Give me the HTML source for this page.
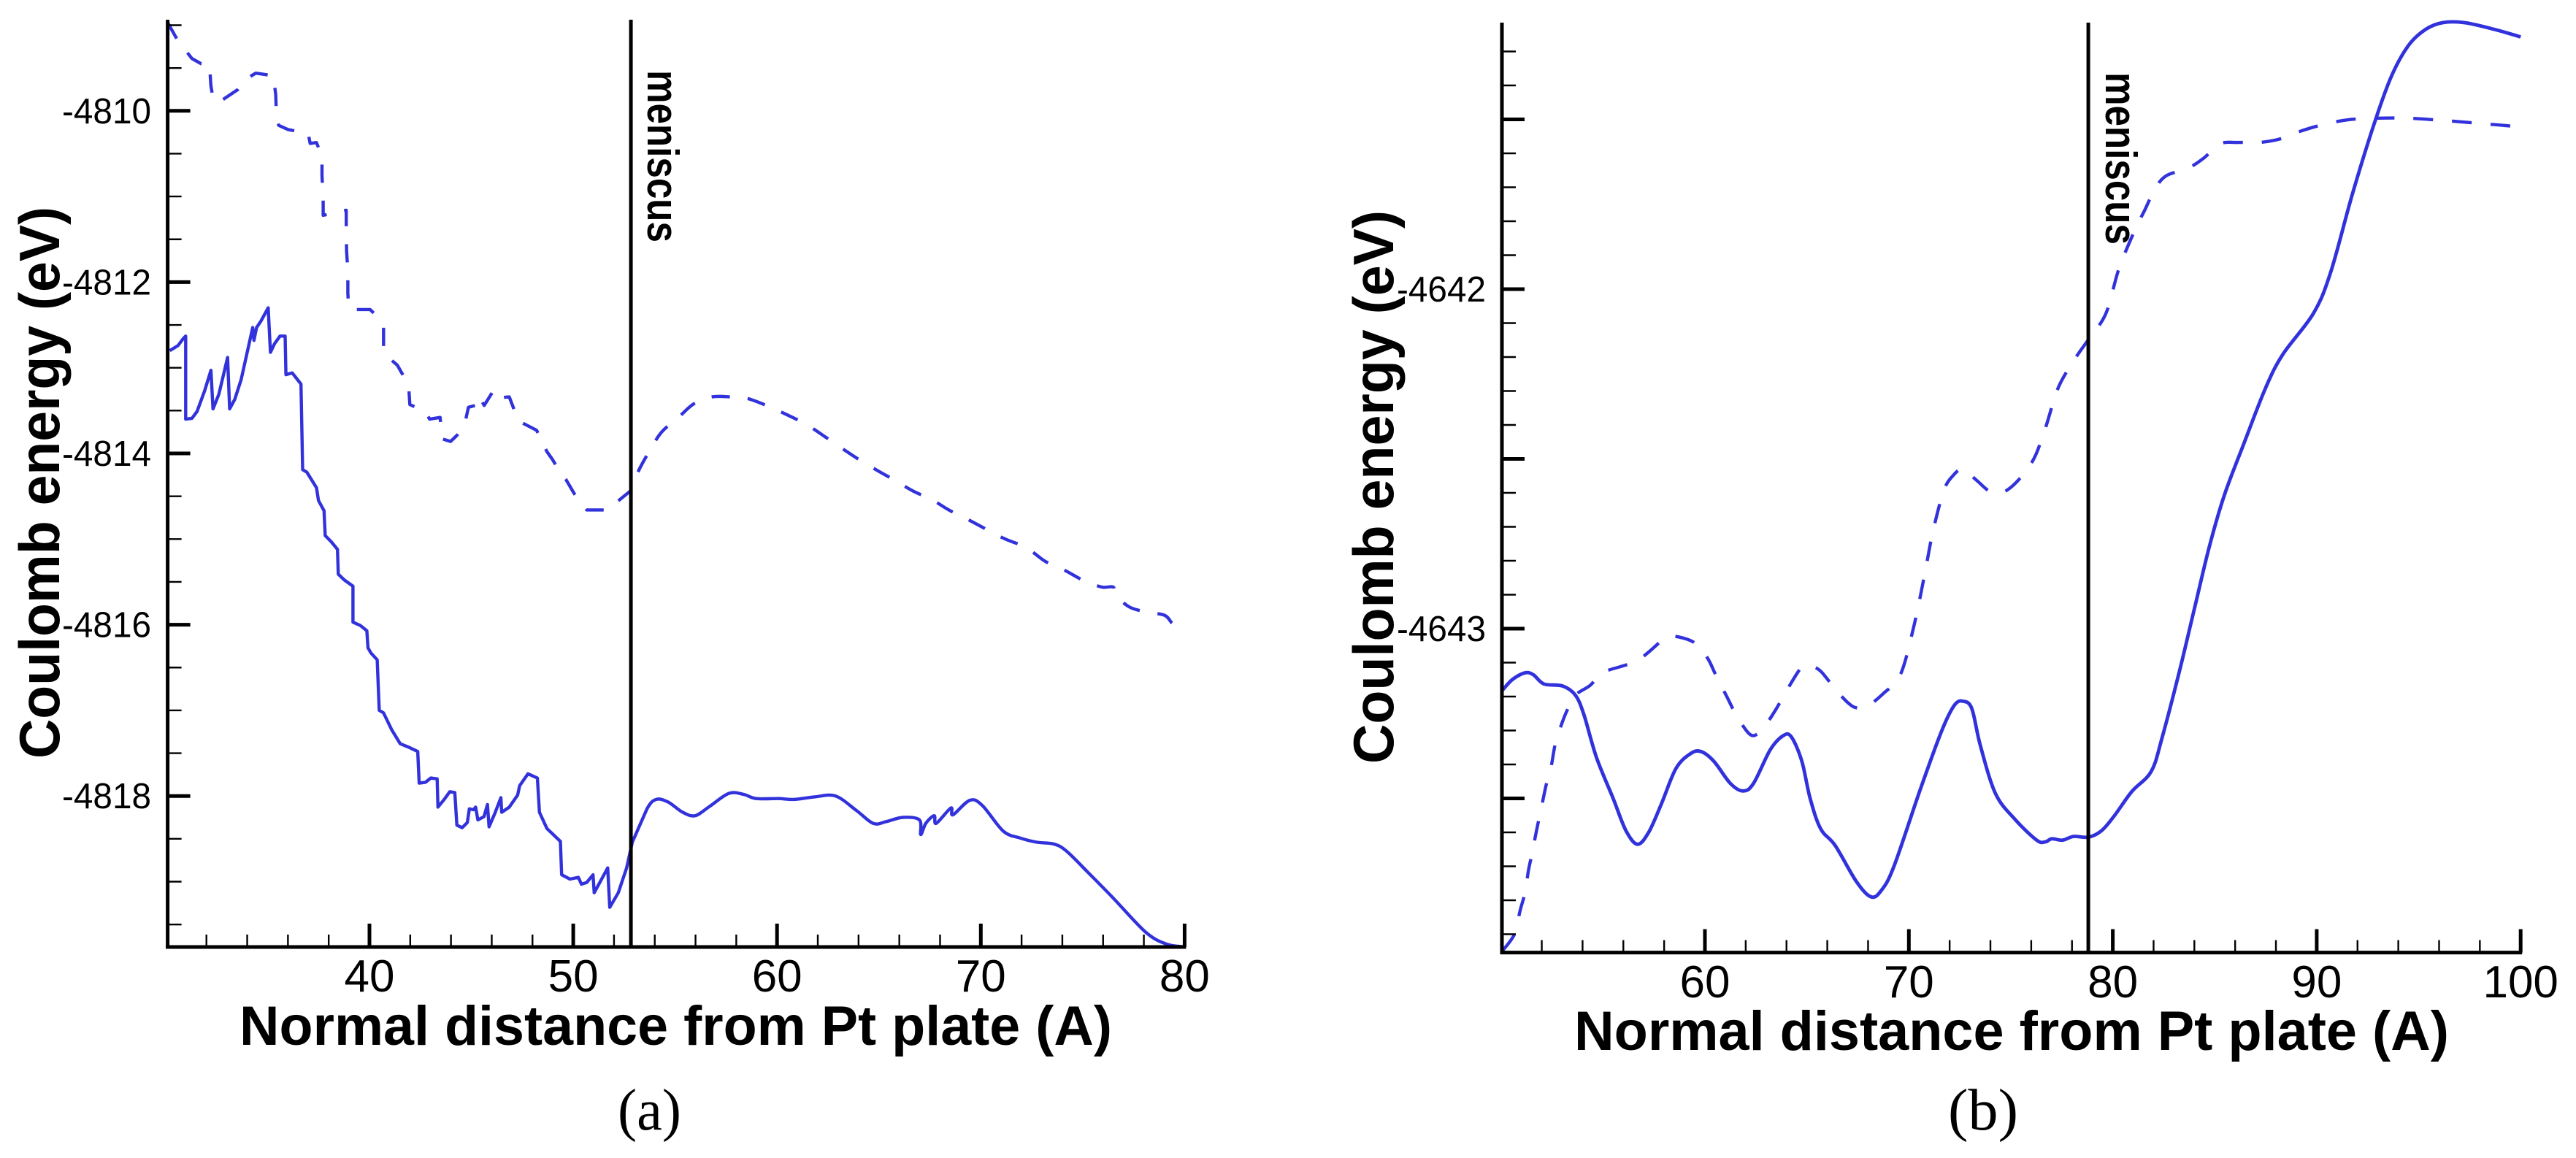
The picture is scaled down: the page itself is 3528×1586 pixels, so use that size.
<!DOCTYPE html>
<html lang="en">
<head>
<meta charset="utf-8">
<title>Coulomb energy vs normal distance</title>
<style>
html,body{margin:0;padding:0;background:#fff;width:3528px;height:1586px;overflow:hidden}
svg{display:block;position:absolute;left:0;top:0}
text{font-family:"Liberation Sans",Arial,sans-serif;fill:#000}
.serif{font-family:"Liberation Serif","Times New Roman",serif}
</style>
</head>
<body>
<svg id="fig" xmlns="http://www.w3.org/2000/svg" width="3528" height="1586" viewBox="0 0 3528 1586"></svg>
<script>
// ---------- Panel (a) data ----------
const aXTickLabels = [40, 50, 60, 70, 80];
const aXMinorTicks = [32, 34, 36, 38, 42, 44, 46, 48, 52, 54, 56, 58, 62, 64, 66, 68, 72, 74, 76, 78];
const aYTickLabels = [-4810, -4812, -4814, -4816, -4818];
const aYMinorTicks = [-4809, -4809.5, -4810.5, -4811, -4811.5, -4812.5, -4813, -4813.5, -4814.5, -4815, -4815.5, -4816.5, -4817, -4817.5, -4818.5, -4819, -4819.5];
const aMeniscus = 52.83;
const aDashedX = [30.10,30.57,31.29,31.74,32.15,32.22,32.32,32.61,33.55,34.00,34.42,35.28,35.40,35.44,35.55,36.02,36.99,37.09,37.40,37.67,37.67,37.73,37.73,38.86,38.86,38.88,38.94,38.94,38.98,39.15,40.03,40.38,40.69,40.69,40.89,41.37,41.92,41.98,42.75,42.95,43.47,43.57,43.98,44.29,44.66,44.86,45.21,45.38,45.63,46.10,46.35,46.86,47.31,48.20,48.71,48.98,49.33,49.63,50.05,50.66,51.67,52.59,52.80,53.21,53.72,54.34,55.16,55.92,56.81,57.73,58.56,59.58,60.41,61.43,62.26,63.18,64.01,64.93,65.75,66.68,67.60,68.43,69.35,70.38,71.20,72.23,73.16,74.08,75.01,75.93,76.49,76.61,77.27,78.09,79.02,79.43,79.94];
const aDashedY = [-4808.97,-4809.17,-4809.39,-4809.45,-4809.46,-4809.71,-4809.85,-4809.90,-4809.75,-4809.62,-4809.56,-4809.59,-4809.81,-4810.08,-4810.17,-4810.22,-4810.26,-4810.38,-4810.37,-4810.53,-4810.76,-4811.01,-4811.22,-4811.16,-4811.39,-4811.64,-4811.87,-4812.13,-4812.30,-4812.32,-4812.32,-4812.40,-4812.53,-4812.80,-4812.87,-4812.97,-4813.20,-4813.43,-4813.51,-4813.60,-4813.58,-4813.83,-4813.86,-4813.79,-4813.67,-4813.46,-4813.44,-4813.33,-4813.44,-4813.26,-4813.35,-4813.34,-4813.62,-4813.73,-4813.98,-4814.07,-4814.21,-4814.30,-4814.47,-4814.66,-4814.66,-4814.48,-4814.44,-4814.20,-4813.98,-4813.75,-4813.58,-4813.42,-4813.34,-4813.34,-4813.36,-4813.45,-4813.54,-4813.66,-4813.79,-4813.94,-4814.07,-4814.20,-4814.31,-4814.44,-4814.54,-4814.66,-4814.77,-4814.90,-4815.00,-4815.10,-4815.26,-4815.36,-4815.48,-4815.56,-4815.56,-4815.65,-4815.79,-4815.85,-4815.89,-4815.99,-4816.02];
const aSolidX = [30.20,30.61,30.86,30.98,30.98,31.29,31.54,31.91,32.22,32.32,32.61,33.04,33.14,33.39,33.70,34.27,34.33,34.46,34.66,35.03,35.14,35.34,35.61,35.86,35.90,36.21,36.64,36.72,36.93,37.40,37.50,37.77,37.83,38.12,38.43,38.47,38.78,39.19,39.19,39.56,39.87,39.93,40.07,40.38,40.48,40.69,41.10,41.51,41.92,42.37,42.44,42.75,43.01,43.32,43.36,43.67,43.94,44.19,44.29,44.55,44.80,44.90,45.11,45.21,45.32,45.62,45.79,45.87,46.14,46.45,46.49,46.86,47.27,47.37,47.78,48.24,48.34,48.71,49.02,49.37,49.43,49.84,50.25,50.40,50.66,50.97,51.03,51.69,51.79,52.21,52.62,52.90,53.62,54.07,54.65,55.37,55.98,56.70,57.63,58.35,58.97,60.10,60.82,61.85,62.87,63.90,64.72,65.34,66.17,66.99,67.05,67.30,67.71,67.81,68.53,68.63,69.46,70.07,71.10,71.92,72.75,73.57,74.19,75.21,76.45,78.09,79.12,79.94];
const aSolidY = [-4812.80,-4812.74,-4812.66,-4812.63,-4813.60,-4813.59,-4813.51,-4813.27,-4813.03,-4813.48,-4813.31,-4812.88,-4813.48,-4813.37,-4813.14,-4812.53,-4812.68,-4812.53,-4812.46,-4812.30,-4812.82,-4812.72,-4812.63,-4812.63,-4813.08,-4813.06,-4813.19,-4814.19,-4814.22,-4814.40,-4814.55,-4814.67,-4814.96,-4815.03,-4815.12,-4815.41,-4815.48,-4815.55,-4815.97,-4816.01,-4816.07,-4816.27,-4816.33,-4816.41,-4817.00,-4817.03,-4817.23,-4817.39,-4817.43,-4817.48,-4817.85,-4817.84,-4817.79,-4817.80,-4818.13,-4818.04,-4817.95,-4817.96,-4818.34,-4818.37,-4818.31,-4818.15,-4818.16,-4818.13,-4818.28,-4818.24,-4818.10,-4818.36,-4818.21,-4818.02,-4818.19,-4818.13,-4817.99,-4817.88,-4817.74,-4817.79,-4818.19,-4818.38,-4818.45,-4818.53,-4818.92,-4818.97,-4818.95,-4819.03,-4819.01,-4818.92,-4819.13,-4818.84,-4819.30,-4819.13,-4818.84,-4818.54,-4818.15,-4818.04,-4818.07,-4818.19,-4818.23,-4818.12,-4817.97,-4817.98,-4818.03,-4818.03,-4818.04,-4818.01,-4818.00,-4818.17,-4818.32,-4818.30,-4818.25,-4818.28,-4818.45,-4818.32,-4818.23,-4818.32,-4818.14,-4818.22,-4818.05,-4818.11,-4818.41,-4818.49,-4818.54,-4818.56,-4818.64,-4818.88,-4819.18,-4819.59,-4819.73,-4819.76];

// ---------- Panel (b) data ----------
const bXTickLabels = [60, 70, 80, 90, 100];
const bXMinorTicks = [52, 54, 56, 58, 62, 64, 66, 68, 72, 74, 76, 78, 82, 84, 86, 88, 92, 94, 96, 98];
const bYMajorTicks = [-4641.5, -4642, -4642.5, -4643, -4643.5];
const bYTickLabels = [-4642, -4643];
const bYMinorTicks = [-4641.3, -4641.4, -4641.6, -4641.7, -4641.8, -4641.9, -4642.1, -4642.2, -4642.3, -4642.4, -4642.6, -4642.7, -4642.8, -4642.9, -4643.1, -4643.2, -4643.3, -4643.4, -4643.6, -4643.7, -4643.8, -4643.9];
const bMeniscus = 78.8;
const bDashedX = [50.09,50.67,50.93,51.18,51.35,51.55,51.76,51.96,52.21,52.46,52.66,52.95,53.24,53.65,54.37,54.98,55.91,56.63,57.24,58.07,58.58,59.50,60.12,60.53,61.09,61.56,62.18,62.59,63.00,63.51,64.03,64.75,65.16,65.67,66.39,67.01,67.42,67.93,68.75,69.58,70.23,70.76,71.18,71.71,72.14,72.67,73.30,74.15,75.00,76.06,76.69,77.33,78.17,78.81,79.66,80.29,81.03,81.56,82.09,82.62,83.68,84.42,85.27,86.12,87.18,88.24,89.19,90.14,91.31,92.26,94.17,96.18,98.20,100];
const bDashedY = [-4643.948,-4643.899,-4643.832,-4643.777,-4643.711,-4643.655,-4643.589,-4643.534,-4643.462,-4643.406,-4643.34,-4643.285,-4643.241,-4643.196,-4643.167,-4643.13,-4643.111,-4643.097,-4643.069,-4643.027,-4643.023,-4643.042,-4643.086,-4643.136,-4643.202,-4643.257,-4643.31,-4643.31,-4643.282,-4643.235,-4643.18,-4643.113,-4643.11,-4643.125,-4643.178,-4643.218,-4643.233,-4643.23,-4643.191,-4643.136,-4642.997,-4642.845,-4642.714,-4642.594,-4642.551,-4642.529,-4642.562,-4642.601,-4642.584,-4642.507,-4642.41,-4642.29,-4642.203,-4642.148,-4642.072,-4641.942,-4641.833,-4641.768,-4641.703,-4641.666,-4641.644,-4641.616,-4641.572,-4641.568,-4641.568,-4641.557,-4641.535,-4641.518,-4641.503,-4641.498,-4641.496,-4641.503,-4641.513,-4641.522];
const bSolidX = [50.09,50.56,51.18,51.59,52.11,53.03,53.65,54.06,54.68,55.50,56.12,56.69,57.24,57.86,58.58,59.30,59.81,60.43,61.25,61.87,62.38,63.20,63.82,64.23,64.75,65.16,65.67,66.39,67.42,68.14,68.65,69.27,70.55,71.61,72.24,72.67,73.09,73.51,74.25,75.21,76.27,76.69,77.01,77.54,78.07,78.81,79.45,80.08,80.93,81.88,82.41,83.26,84.00,84.74,85.48,86.44,87.50,88.34,89.83,90.67,91.73,92.79,93.64,94.49,95.34,96.18,97.24,98.72,100];
const bSolidY = [-4643.18,-4643.15,-4643.13,-4643.136,-4643.163,-4643.169,-4643.196,-4643.252,-4643.379,-4643.50,-4643.594,-4643.635,-4643.60,-4643.517,-4643.412,-4643.368,-4643.362,-4643.39,-4643.456,-4643.478,-4643.456,-4643.357,-4643.316,-4643.318,-4643.39,-4643.50,-4643.589,-4643.639,-4643.744,-4643.79,-4643.771,-4643.70,-4643.475,-4643.301,-4643.225,-4643.214,-4643.236,-4643.345,-4643.486,-4643.562,-4643.623,-4643.628,-4643.619,-4643.623,-4643.612,-4643.614,-4643.595,-4643.551,-4643.48,-4643.421,-4643.323,-4643.127,-4642.942,-4642.757,-4642.605,-4642.453,-4642.29,-4642.192,-4642.072,-4641.953,-4641.724,-4641.518,-4641.376,-4641.283,-4641.235,-4641.215,-4641.215,-4641.235,-4641.257];

const NS = 'http://www.w3.org/2000/svg';
const svg = document.getElementById('fig');
const BLUE = '#3232dc';

function seg(parent, x1, y1, x2, y2, w) {
  const l = document.createElementNS(NS, 'line');
  l.setAttribute('x1', x1); l.setAttribute('y1', y1);
  l.setAttribute('x2', x2); l.setAttribute('y2', y2);
  l.setAttribute('stroke', '#000');
  l.setAttribute('stroke-width', w);
  parent.appendChild(l);
  return l;
}
function label(parent, str, x, y, size, opts) {
  const t = document.createElementNS(NS, 'text');
  t.textContent = str;
  t.setAttribute('x', x); t.setAttribute('y', y);
  t.setAttribute('font-size', size);
  if (opts.anchor) t.setAttribute('text-anchor', opts.anchor);
  if (opts.bold) t.setAttribute('font-weight', 'bold');
  if (opts.cls) t.setAttribute('class', opts.cls);
  if (opts.len) { t.setAttribute('textLength', opts.len); t.setAttribute('lengthAdjust', 'spacingAndGlyphs'); }
  if (opts.rot) t.setAttribute('transform', 'rotate(' + opts.rot + ' ' + x + ' ' + y + ')');
  parent.appendChild(t);
  return t;
}
// Straight segments through the jagged low-distance part, Catmull-Rom through the smooth part.
function curve(parent, xs, ys, sx, sy, width, dash, smoothFrom) {
  const px = xs.map(sx);
  const py = ys.map(sy);
  let d = 'M' + px[0].toFixed(1) + ' ' + py[0].toFixed(1);
  for (let i = 1; i < px.length; i++) {
    if (xs[i - 1] >= smoothFrom) {
      const a = Math.max(i - 2, 0);
      const b = Math.min(i + 1, px.length - 1);
      const c1x = px[i - 1] + (px[i] - px[a]) / 6;
      const c1y = py[i - 1] + (py[i] - py[a]) / 6;
      const c2x = px[i] - (px[b] - px[i - 1]) / 6;
      const c2y = py[i] - (py[b] - py[i - 1]) / 6;
      d += 'C' + c1x.toFixed(1) + ' ' + c1y.toFixed(1) + ' ' + c2x.toFixed(1) + ' ' + c2y.toFixed(1) + ' ' + px[i].toFixed(1) + ' ' + py[i].toFixed(1);
    } else {
      d += 'L' + px[i].toFixed(1) + ' ' + py[i].toFixed(1);
    }
  }
  const p = document.createElementNS(NS, 'path');
  p.setAttribute('d', d);
  p.setAttribute('fill', 'none');
  p.setAttribute('stroke', BLUE);
  p.setAttribute('stroke-width', width);
  p.setAttribute('stroke-linejoin', 'round');
  if (dash) p.setAttribute('stroke-dasharray', dash);
  parent.appendChild(p);
  return p;
}

function drawPanel(c) {
  const g = document.createElementNS(NS, 'g');
  
  
  svg.appendChild(g);

  const sx = function (v) { return c.x0 + (v - c.xRef) * c.xScale; };
  const sy = function (v) { return c.y0 + (c.yRef - v) * c.yScale; };

  const dashed = curve(g, c.dashedX, c.dashedY, sx, sy, 4.4, c.dash, c.smoothFrom);
  
  

  const solid = curve(g, c.solidX, c.solidY, sx, sy, c.solidWidth, null, c.smoothFrom);
  
  

  const xAxis = seg(g, c.left - 2.5, c.bottom, sx(c.xMax) + 2, c.bottom, 5);
  
  

  const yAxis = seg(g, c.left, c.top, c.left, c.bottom + 2, 5);
  
  

  c.xMinor.forEach(function (v) {
    const t = seg(g, sx(v), c.bottom, sx(v), c.bottom - 17, 2.4);
    
    
  });
  c.xTicks.forEach(function (v) {
    const t = seg(g, sx(v), c.bottom, sx(v), c.bottom - 32, 5);
    
    
    const l = label(g, String(v), sx(v), c.xLabelBase, 62, { anchor: 'middle' });
    
    
  });
  c.yMinor.forEach(function (v) {
    const t = seg(g, c.left, sy(v), c.left + 19, sy(v), 2.4);
    
    
  });
  c.yMajor.forEach(function (v) {
    const t = seg(g, c.left, sy(v), c.left + 31, sy(v), 5);
    
    
  });
  c.yLabels.forEach(function (v) {
    const l = label(g, String(v), c.yLabelX, sy(v) + 17, 49, { anchor: 'end', len: 122 });
    
    
  });

  const men = seg(g, sx(c.meniscus), c.top, sx(c.meniscus), c.bottom, 5);
  
  

  const menT = label(g, 'meniscus', c.menTextX, c.menTextY, 60, { bold: true, len: 236, rot: 90 });
  
  

  const xt = label(g, 'Normal distance from Pt plate (A)', c.xTitleX, c.xTitleBase, 76, { bold: true, len: c.xTitleLen });
  
  

  const yt = label(g, 'Coulomb energy (eV)', c.yTitleBase, c.yTitleY, 78, { bold: true, len: c.yTitleLen, rot: -90 });
  
  

  const cap = label(g, c.caption, c.capX, c.capBase, 80, { cls: 'serif', len: c.capLen });
  
  
}

drawPanel({
  name: 'panel-a', x0: 506, xRef: 40, xScale: 27.91, y0: 151.8, yRef: -4810, yScale: 117.3,
  left: 229.6, top: 27, bottom: 1297, xMax: 80,
  xTicks: aXTickLabels, xMinor: aXMinorTicks, yMajor: aYTickLabels, yMinor: aYMinorTicks, yLabels: aYTickLabels,
  meniscus: aMeniscus, dashedX: aDashedX, dashedY: aDashedY, solidX: aSolidX, solidY: aSolidY,
  solidWidth: 4.4, dash: '25 24.5', smoothFrom: 53,
  xLabelBase: 1358, yLabelX: 207, menTextX: 887, menTextY: 96,
  xTitleX: 328, xTitleBase: 1431, xTitleLen: 1195,
  yTitleBase: 81, yTitleY: 1039, yTitleLen: 756,
  caption: '(a)', capX: 846, capBase: 1547, capLen: 87
});
drawPanel({
  name: 'panel-b', x0: 2335, xRef: 60, xScale: 27.93, y0: 396, yRef: -4642, yScale: 465,
  left: 2057, top: 31, bottom: 1304.6, xMax: 100,
  xTicks: bXTickLabels, xMinor: bXMinorTicks, yMajor: bYMajorTicks, yMinor: bYMinorTicks, yLabels: bYTickLabels,
  meniscus: bMeniscus, dashedX: bDashedX, dashedY: bDashedY, solidX: bSolidX, solidY: bSolidY,
  solidWidth: 4.8, dash: '27 26', smoothFrom: 50,
  xLabelBase: 1366, yLabelX: 2035, menTextX: 2884, menTextY: 99,
  xTitleX: 2156, xTitleBase: 1438, xTitleLen: 1198,
  yTitleBase: 1908, yTitleY: 1046, yTitleLen: 758,
  caption: '(b)', capX: 2668, capBase: 1547, capLen: 96
});
</script>
</body>
</html>
